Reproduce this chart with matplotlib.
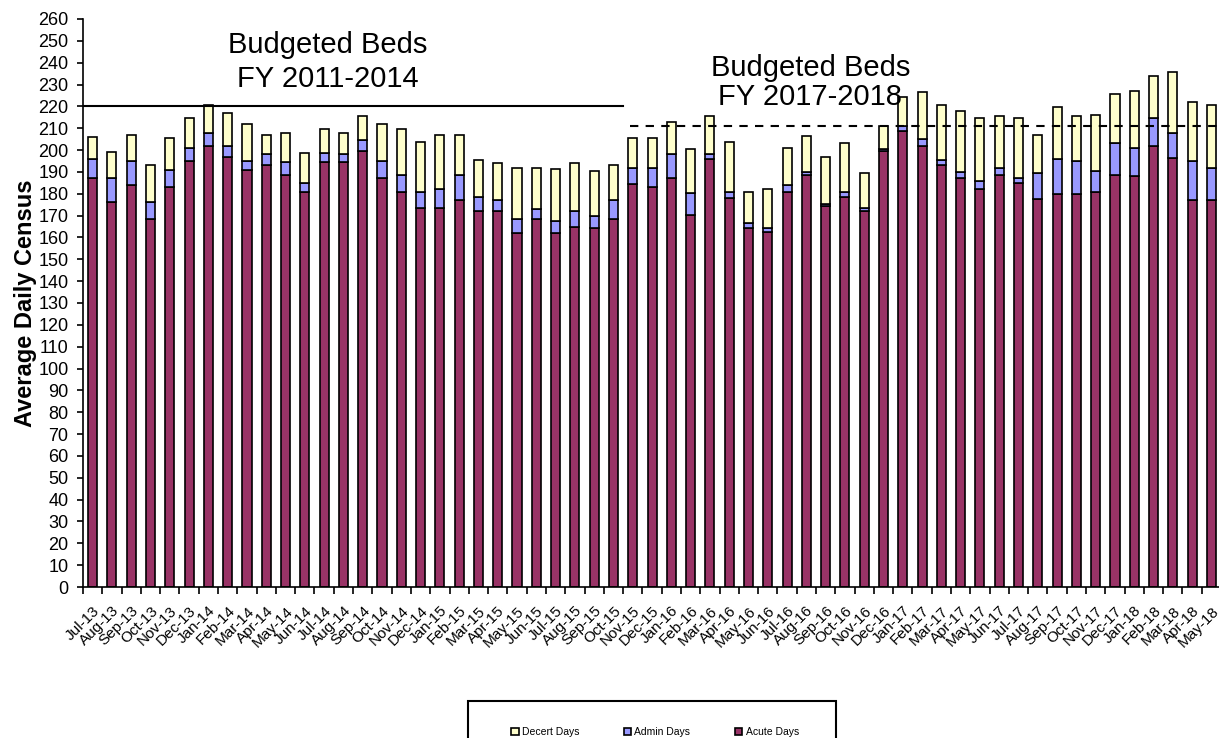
import numpy as np
import matplotlib
matplotlib.use('Agg')
import matplotlib.pyplot as plt
from matplotlib.patches import Rectangle

months = ['Jul-13', 'Aug-13', 'Sep-13', 'Oct-13', 'Nov-13', 'Dec-13',
          'Jan-14', 'Feb-14', 'Mar-14', 'Apr-14', 'May-14', 'Jun-14',
          'Jul-14', 'Aug-14', 'Sep-14', 'Oct-14', 'Nov-14', 'Dec-14',
          'Jan-15', 'Feb-15', 'Mar-15', 'Apr-15', 'May-15', 'Jun-15',
          'Jul-15', 'Aug-15', 'Sep-15', 'Oct-15', 'Nov-15', 'Dec-15',
          'Jan-16', 'Feb-16', 'Mar-16', 'Apr-16', 'May-16', 'Jun-16',
          'Jul-16', 'Aug-16', 'Sep-16', 'Oct-16', 'Nov-16', 'Dec-16',
          'Jan-17', 'Feb-17', 'Mar-17', 'Apr-17', 'May-17', 'Jun-17',
          'Jul-17', 'Aug-17', 'Sep-17', 'Oct-17', 'Nov-17', 'Dec-17',
          'Jan-18', 'Feb-18', 'Mar-18', 'Apr-18', 'May-18']

acute = [187, 176, 184, 168.5, 183, 195,
         202, 197, 191, 193, 188.5, 181,
         194.5, 194.5, 199.5, 187, 181, 173.5,
         173.5, 177, 172, 172, 162, 168.5,
         162, 165, 164.5, 168.5, 184.5, 183,
         187, 170.5, 196, 178, 164.5, 162.5,
         181, 188.5, 174.5, 178.5, 172, 199.5,
         208.5, 202, 193, 187, 182, 188.5,
         185, 177.5, 180, 180, 181, 188.5,
         188, 202, 196.5, 177, 177]

admin = [9, 11, 11, 7.5, 8, 6,
         6, 5, 4, 5, 6, 4,
         4, 3.5, 5, 8, 7.5, 7.5,
         8.5, 11.5, 6.5, 5, 6.5, 4.5,
         5.5, 7, 5.5, 8.5, 7.5, 9,
         11, 10, 2, 3, 2, 2,
         3, 1.5, 1, 2.5, 1.5, 1,
         2.5, 3, 2.5, 3, 4, 3.5,
         2, 12, 16, 15, 9.5, 14.5,
         13, 12.5, 11.5, 18, 15]

decert = [10, 12, 12, 17, 14.5, 13.5,
          12.5, 15, 17, 9, 13.5, 13.5,
          11, 10, 11, 17, 21, 22.5,
          25, 18.5, 17, 17, 23.5, 19,
          24, 22, 20.5, 16, 13.5, 13.5,
          15, 20, 17.5, 22.5, 14.5, 17.5,
          17, 16.5, 21.5, 22, 16, 10.5,
          13.5, 21.5, 25, 28, 28.5, 23.5,
          27.5, 17.5, 23.5, 20.5, 25.5, 22.5,
          26, 19.5, 27.5, 27, 28.5]

budget_old = 220
budget_new = 211

plt.rcParams['font.family'] = ['Liberation Sans', 'DejaVu Sans']

fig = plt.figure(figsize=(12.19, 7.38), dpi=100)
ax = fig.add_axes([0.0681, 0.2046, 0.9336, 0.7697])

x = np.arange(len(months))
acute = np.array(acute)
admin = np.array(admin)
decert = np.array(decert)

w = 0.47
ax.bar(x, acute, w, color='#993366', edgecolor='black', linewidth=1.2, label='Acute Days', zorder=2)
ax.bar(x, admin, w, bottom=acute, color='#9999FF', edgecolor='black', linewidth=1.2, label='Admin Days', zorder=2)
ax.bar(x, decert, w, bottom=acute + admin, color='#FFFFCC', edgecolor='black', linewidth=1.2, label='Decert Days', zorder=2)

# budget lines
ax.plot([-0.5, 27.5], [budget_old, budget_old], color='black', linewidth=1.5, zorder=3)
ax.plot([27.85, len(months) - 0.5], [budget_new, budget_new], color='black', linewidth=1.5,
        linestyle=(0, (4, 3.5)), zorder=3)

# labels, one line at a time
ax.text(12.2, 244.2, 'Budgeted Beds', ha='center', va='baseline', fontsize=21, zorder=4)
ax.text(12.2, 229.0, 'FY 2011-2014', ha='center', va='baseline', fontsize=21, zorder=4)
ax.text(37.2, 234.1, 'Budgeted Beds', ha='center', va='baseline', fontsize=21, zorder=4)
ax.text(37.2, 220.8, 'FY 2017-2018', ha='center', va='baseline', fontsize=21, zorder=4)

ax.set_xlim(-0.5, len(months) - 0.5)
ax.set_ylim(0, 260)
ax.set_yticks(np.arange(0, 261, 10))
ax.tick_params(axis='y', labelsize=13, length=4, width=1.2, direction='out', pad=6.5)

ax.set_xticks(x)
ax.set_xticklabels(months, rotation=45, ha='right', rotation_mode='anchor', fontsize=11)
ax.tick_params(axis='x', which='major', length=0, pad=12)
ax.set_xticks(np.arange(-0.5, len(months), 1), minor=True)
ax.tick_params(axis='x', which='minor', length=5, width=1.2, direction='out')

for s in ['top', 'right']:
    ax.spines[s].set_visible(False)
ax.spines['left'].set_linewidth(1.2)
ax.spines['bottom'].set_linewidth(1.2)

ax.set_ylabel('Average Daily Census', fontsize=17, fontweight='bold', labelpad=1)

# legend box cut at bottom
fig.patches.append(Rectangle((468 / 1219, -0.05), (836 - 468) / 1219, 0.05 + (738 - 701) / 738,
                             transform=fig.transFigure, fill=False, edgecolor='black',
                             linewidth=1.5, clip_on=False))
h, l = ax.get_legend_handles_labels()
fig.legend(h[::-1], l[::-1], ncol=3, loc='center', bbox_to_anchor=(655 / 1219, 1 - 732 / 738),
           frameon=False, fontsize=7.5, handlelength=0.7, handleheight=0.7, columnspacing=4.3,
           handletextpad=0.3, borderpad=0)

plt.savefig('out.png', dpi=100)
plt.close()
